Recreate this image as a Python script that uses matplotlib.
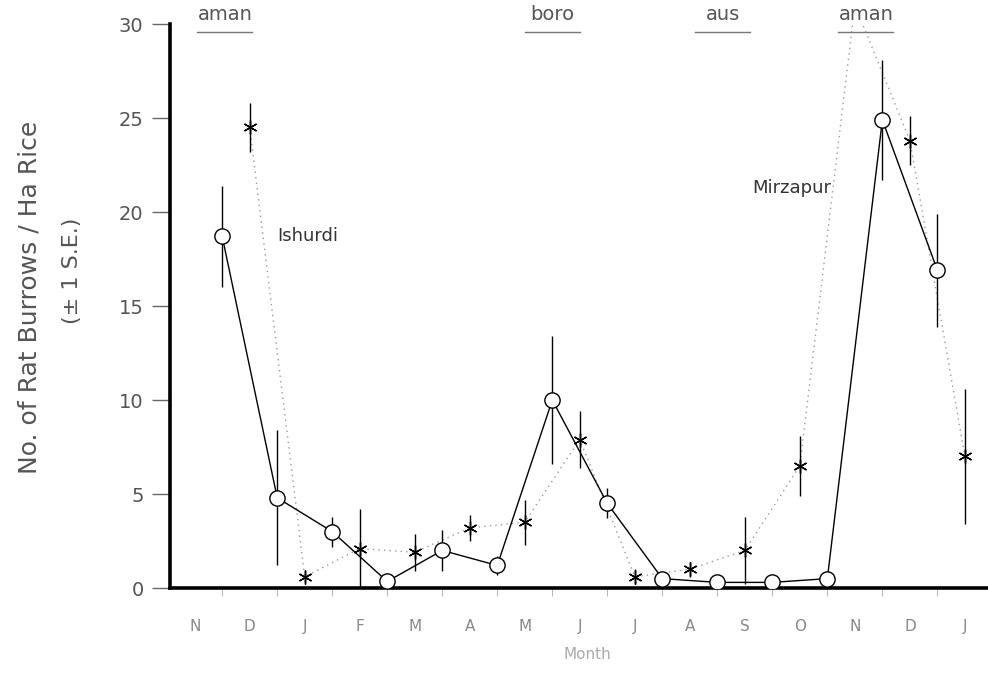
import numpy as np
import matplotlib
matplotlib.use("Agg")
import matplotlib.pyplot as plt

# ---- data ----
month_labels = ["N", "D", "J", "F", "M", "A", "M", "J", "J", "A", "S", "O", "N", "D", "J"]
# circle series (solid line), plotted mid-month
circle_x = [0.5, 1.5, 2.5, 3.5, 4.5, 5.5, 6.5, 7.5, 8.5, 9.5, 10.5, 11.5, 12.5, 13.5]
circle_y = [18.7, 4.8, 3.0, 0.35, 2.0, 1.2, 10.0, 4.5, 0.5, 0.3, 0.3, 0.5, 24.9, 16.9]
circle_se = [2.7, 3.6, 0.8, 0.0, 1.1, 0.5, 3.4, 0.8, 0.3, 0.0, 0.0, 0.3, 3.2, 3.0]
# asterisk series (dotted line), plotted at month labels
star_x = [1, 2, 3, 4, 5, 6, 7, 8, 9, 10, 11, 12, 13, 14]
star_y = [24.5, 0.6, 2.1, 1.9, 3.2, 3.5, 7.9, 0.6, 1.0, 2.0, 6.5, 31.0, 23.8, 7.0]
star_se = [1.3, 0.3, 2.1, 1.0, 0.7, 1.2, 1.5, 0.4, 0.4, 1.8, 1.6, 0.0, 1.3, 3.6]
# season labels
seasons = ["aman", "boro", "aus", "aman"]
season_x = [0.55, 6.5, 9.6, 12.2]
site_labels = ["Ishurdi", "Mirzapur"]
site_x = [2.05, 10.85]
site_y = [18.7, 21.3]
y_ticks = [0, 5, 10, 15, 20, 25, 30]

text_color = "#555555"
font = ["DejaVu Sans"]

fig = plt.figure(figsize=(9.88, 6.78), dpi=100)
ax = fig.add_axes([0.172, 0.1327, 0.828, 0.8319])
ax.set_xlim(-0.45, 14.42)
ax.set_ylim(0, 30)

# asterisk series
ax.plot(star_x, star_y, linestyle=(0, (1, 3)), color="#9a9a9a", lw=1.0, zorder=2)
ax.errorbar(star_x, star_y, yerr=star_se, fmt="none", ecolor="black",
            elinewidth=1.0, capsize=0, zorder=3)
ax.plot(star_x, star_y, linestyle="none", marker=(6, 2, 0), markersize=10,
        markeredgecolor="black", markeredgewidth=1.0, zorder=4)

# circle series
ax.plot(circle_x, circle_y, color="black", lw=1.0, zorder=3)
ax.errorbar(circle_x, circle_y, yerr=circle_se, fmt="none", ecolor="black",
            elinewidth=1.0, capsize=0, zorder=3)
ax.plot(circle_x, circle_y, linestyle="none", marker="o", markersize=11,
        markerfacecolor="white", markeredgecolor="black", markeredgewidth=1.0,
        zorder=5)

# spines
for s in ["top", "right"]:
    ax.spines[s].set_visible(False)
ax.spines["left"].set_linewidth(2.6)
ax.spines["bottom"].set_linewidth(2.6)

ax.set_yticks(y_ticks)
ax.set_yticklabels([str(t) for t in y_ticks], fontsize=14, color=text_color,
                   family=font)
ax.tick_params(axis="y", direction="out", length=13, width=1.0,
               color="#666666", pad=6)

ax.set_xticks(circle_x)
ax.set_xticklabels([""] * len(circle_x))
ax.tick_params(axis="x", direction="out", length=6, width=0.8,
               color="#bbbbbb")
ax.set_xticks(range(len(month_labels)), minor=True)
ax.set_xticklabels(month_labels, minor=True, fontsize=11, color="#888888",
                   family=font)
ax.tick_params(axis="x", which="minor", length=0, pad=22)

ax.set_xlabel("Month", fontsize=11, color="#aaaaaa", family=font)
ax.xaxis.set_label_coords(0.51, -0.105)

# season labels with underlines
for name, sx in zip(seasons, season_x):
    ax.text(sx, 30.5, name, ha="center", va="center", fontsize=14,
            color=text_color, family=font, clip_on=False)
    ax.plot([sx - 0.5, sx + 0.5], [29.6, 29.6], color="#777777", lw=1.0,
            clip_on=False)

for name, lx, ly in zip(site_labels, site_x, site_y):
    ax.text(lx, ly, name, ha="center", va="center", fontsize=13,
            color="#333333", family=font)

fig.text(0.030, 0.562, "No. of Rat Burrows / Ha Rice", rotation=90,
         ha="center", va="center", fontsize=18, color=text_color, family=font)
fig.text(0.073, 0.60, "(\u00b1 1 S.E.)", rotation=90, ha="center",
         va="center", fontsize=16, color=text_color, family=font)

fig.savefig("out.png", dpi=100)
